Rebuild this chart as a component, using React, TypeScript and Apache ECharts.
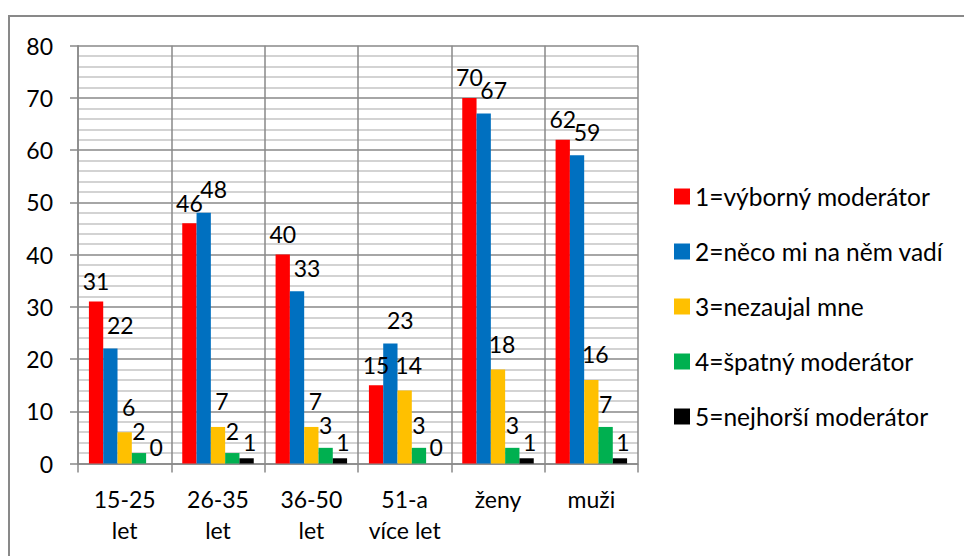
import React, { useEffect, useRef } from "react";
import * as echarts from "echarts";

const categories = ["15-25\nlet", "26-35\nlet", "36-50\nlet", "51-a\nvíce let", "ženy", "muži"];
const seriesNames = [
  "1=výborný moderátor",
  "2=něco mi na něm vadí",
  "3=nezaujal mne",
  "4=špatný moderátor",
  "5=nejhorší moderátor",
];
const excellent = [31, 46, 40, 15, 70, 62];
const somethingBothers = [22, 48, 33, 23, 67, 59];
const notInterested = [6, 7, 7, 14, 18, 16];
const bad = [2, 2, 3, 3, 3, 7];
const worst = [0, 1, 1, 0, 1, 1];
const yTicks = { min: 0, max: 80, interval: 10 };

const colors = ["#FF0000", "#0070C0", "#FFC000", "#00B050", "#000000"];
const labelDistance = [9, 12, 14, 11, 5];
const labelShiftX = [0, 10, 4, 0, 3];

const FONT = "Lato";

export default function App() {
  const ref = useRef<HTMLDivElement>(null);
  useEffect(() => {
    if (!ref.current) return;
    const chart = echarts.init(ref.current, null, { renderer: "svg" });
    const allData = [excellent, somethingBothers, notInterested, bad, worst];
    const series = allData.map((d, i) => ({
      name: seriesNames[i],
      type: "bar",
      data: d,
      barGap: "0%",
      barCategoryGap: "23.4%",
      itemStyle: { color: colors[i] },
      label: {
        show: true,
        position: "top",
        distance: labelDistance[i],
        offset: [labelShiftX[i], 0],
        color: "#000",
        fontFamily: FONT,
        fontSize: 23,
      },
    }));
    chart.setOption({
      animation: false,
      textStyle: { fontFamily: FONT },
      grid: { left: 78, right: 326, top: 45.7, bottom: 92.5, containLabel: false },
      legend: {
        orient: "vertical",
        left: 669,
        top: 179,
        icon: "rect",
        itemWidth: 16,
        itemHeight: 16,
        itemGap: 30,
        data: seriesNames,
        textStyle: { fontFamily: FONT, fontSize: 24.5, lineHeight: 24, color: "#000" },
      },
      xAxis: {
        type: "category",
        data: categories,
        axisLine: { show: true, lineStyle: { color: "#888", width: 1.5 } },
        axisTick: { show: true, interval: 0, length: 9, lineStyle: { color: "#888", width: 1.5 } },
        splitLine: { show: true, interval: 0, lineStyle: { color: "#888", width: 1.5 } },
        axisLabel: {
          interval: 0,
          margin: 20,
          fontFamily: FONT,
          fontSize: 23,
          lineHeight: 31,
          color: "#000",
        },
      },
      yAxis: {
        type: "value",
        min: yTicks.min,
        max: yTicks.max,
        interval: yTicks.interval,
        axisLine: { show: true, lineStyle: { color: "#888", width: 1.5 } },
        axisTick: { show: true, length: 8, lineStyle: { color: "#888", width: 1.5 } },
        splitLine: { show: true, lineStyle: { color: "#888", width: 1.5 } },
        minorTick: { show: false, splitNumber: 5 },
        minorSplitLine: { show: true, lineStyle: { color: "#c4c4c4", width: 1.5 } },
        axisLabel: { margin: 25, fontFamily: FONT, fontSize: 23, color: "#000" },
      },
      graphic: [
        {
          type: "rect",
          shape: { x: 9, y: 16, width: 1000, height: 600 },
          style: { fill: "none", stroke: "#898989", lineWidth: 2 },
          silent: true,
          z: -1,
        },
      ],
      series,
    });
    return () => chart.dispose();
  }, []);
  return (
    <div
      ref={ref}
      style={{ position: "fixed", left: 0, top: 0, width: 964, height: 556, background: "#fff" }}
    />
  );
}
